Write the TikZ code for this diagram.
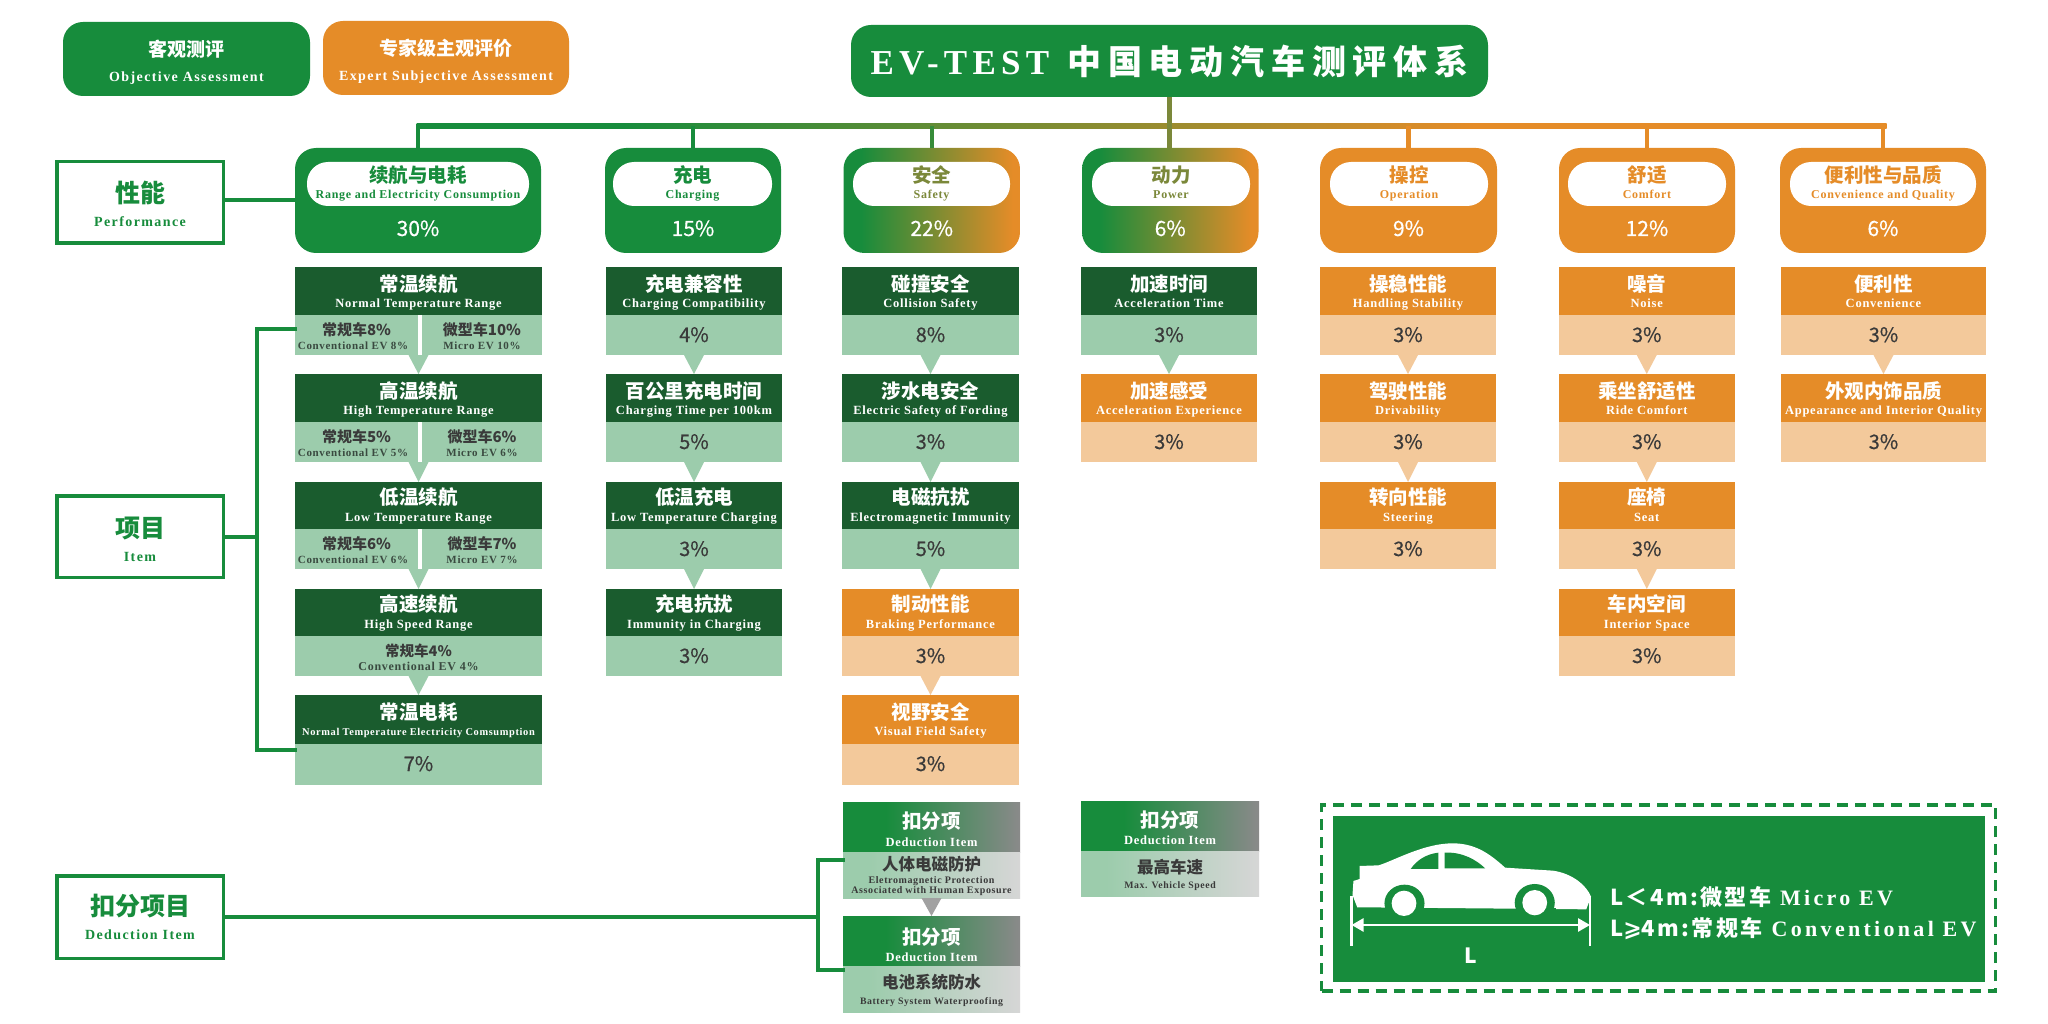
\documentclass[tikz,border=0pt]{standalone}
\usepackage{fontspec}
\usetikzlibrary{arrows.meta}
\newfontfamily\zhf{Noto Sans CJK SC}
\newfontfamily\pcf{Noto Sans CJK SC}[FakeBold=0.5]
\newfontfamily\zhtf{Noto Sans CJK SC}[LetterSpace=20]
\newfontfamily\zhlf{Noto Sans CJK SC}[LetterSpace=11]
\newfontfamily\enf{Liberation Serif}[LetterSpace=6]
\newfontfamily\enmf{Liberation Serif}[LetterSpace=10]
\newfontfamily\entf{Liberation Serif}[LetterSpace=15]
\definecolor{cg}{HTML}{178C3C}
\definecolor{cdg}{HTML}{1A5C2E}
\definecolor{clg}{HTML}{9CCCAC}
\definecolor{co}{HTML}{E58C28}
\definecolor{clo}{HTML}{F3C99B}
\definecolor{cgray}{HTML}{8A8A8A}
\definecolor{clgray}{HTML}{D6D6D6}
\definecolor{colive}{HTML}{7B883A}
\definecolor{ctxt}{HTML}{3A3A3A}
\definecolor{cten}{HTML}{3A4A40}
\pgfdeclarehorizontalshading{gradGO}{100bp}{color(0bp)=(cg); color(30bp)=(cg); color(73bp)=(co); color(100bp)=(co)}
\pgfdeclarehorizontalshading{gradBus}{100bp}{color(0bp)=(cg); color(32bp)=(cg); color(61bp)=(co); color(100bp)=(co)}
\pgfdeclarehorizontalshading{gradDH}{100bp}{color(0bp)=(cg); color(37bp)=(cg); color(75bp)=(cgray); color(100bp)=(cgray)}
\pgfdeclarehorizontalshading{gradDB}{100bp}{color(0bp)=(clg); color(32bp)=(clg); color(75bp)=(clgray); color(100bp)=(clgray)}
\newcommand\ZH[2]{{\zhf\bfseries\fontsize{#1}{#1}\selectfont #2}}
\newcommand\PC[2]{{\pcf\fontsize{#1}{#1}\selectfont #2}}
\newcommand\EN[2]{{\enf\bfseries\fontsize{#1}{#1}\selectfont #2}}
\newcommand\ENM[2]{{\enmf\bfseries\fontsize{#1}{#1}\selectfont #2}}
\newcommand\lineat[2]{\vskip#1pt\hbox to\hsize{\hss\smash{#2}\hss}}
% name x1 y1 x2 y2 style lines
\newcommand\bnode[7]{%
  \pgfmathsetmacro\bw{#4-#2}\pgfmathsetmacro\bh{#5-#3}%
  \node[#6,anchor=north west,inner sep=0pt,outer sep=0pt] (#1) at (#2,#3)
    {\vbox to \bh pt{\hsize=\bw pt\offinterlineskip #7\vss}};}
% name top mid bot g/o zh en pct  (uses \xa \xb)
\newcommand\itm[8]{%
  \pgfmathsetmacro\hb{(#2==482||#2==589)?22.6:24.4}%
  \bnode{#1h}{\xa}{#2}{\xb}{#3}{h#5}{\lineat{\hb}{\ZH{19.5}{#6}}\lineat{16.4}{\EN{12.5}{#7}}}%
  \bnode{#1b}{\xa}{#3}{\xb}{#4}{b#5}{\lineat{27}{\PC{20}{#8}}}}
\newcommand\spl[5]{%
  \draw[white,line width=4pt] ([xshift=1.5pt]#1b.north) -- ([xshift=1.5pt]#1b.south);
  \pgfmathsetmacro\yt{#2}%
  \bnode{#1l}{295}{\yt}{418}{\yt+40}{text=ctxt}{\lineat{20.4}{\ZH{15}{#3}}\lineat{14}{\textcolor{cten}{\EN{11}{#4\kern7pt}}}}%
  \bnode{#1r}{422}{\yt}{542}{\yt+40}{text=ctxt}{\lineat{20.4}{\ZH{15}{#5}}\lineat{14}{\textcolor{cten}{\EN{11}{\spltail}}}}}
\newcommand\tri[3]{\fill[#1] ([xshift=-10pt]#2.south) -- ([xshift=10pt]#2.south) -- (#3.north) -- cycle;}
\newcommand\cat[7]{%
  \bnode{#1}{#2}{148}{#3}{253}{#4,rounded corners=21pt,text=white}{\lineat{88}{\PC{21}{#7}}}}
\newcommand\pill[7]{%
  \bnode{#1}{#2}{162}{#3}{206}{fill=white,rounded corners=21pt,text=#4}{\lineat{20.4}{\ZH{19.5}{#5}}\lineat{16.4}{\EN{12}{#6}}}}
\tikzset{
 hg/.style={fill=cdg,text=white}, bg/.style={fill=clg,text=ctxt},
 ho/.style={fill=co,text=white}, bo/.style={fill=clo,text=ctxt},
 gfill/.style={fill=cg}, ofill/.style={fill=co},
 gofill/.style={shade,shading=gradGO},
 dh/.style={shade,shading=gradDH,text=white},
 db/.style={shade,shading=gradDB,text=ctxt},
 sidebox/.style={draw=cg,line width=3.5pt,fill=white,text=cg},
 conn/.style={line width=4pt,draw=cg},
 drop/.style={line width=4.5pt},
}
\begin{document}
\begin{tikzpicture}[x=1pt,y=-1pt]
\useasboundingbox[fill=white] (0,0) rectangle (2048,1024);
% legend top
\bnode{lgA}{63}{22}{310}{96}{fill=cg,rounded corners=20pt,text=white}{\lineat{34.5}{\ZH{19}{客观测评}}\lineat{25.5}{\ENM{14}{Objective Assessment}}}
\bnode{lgB}{323}{21}{569}{95}{fill=co,rounded corners=20pt,text=white}{\lineat{35}{\ZH{19}{专家级主观评价}}\lineat{25}{\ENM{14}{Expert Subjective Assessment}}}
% title
\bnode{title}{851}{25}{1488}{97}{fill=cg,rounded corners=20pt,text=white}{\lineat{50}{{\entf\bfseries\fontsize{35}{35}\selectfont EV-TEST}\kern18pt{\zhtf\bfseries\fontsize{34}{34}\selectfont 中国电动汽车测评体系}}}
% categories
\cat{c1}{295}{541}{gfill}{}{}{30\%}
\cat{c2}{605}{781}{gfill}{}{}{15\%}
\cat{c3}{843.5}{1020}{gofill}{}{}{22\%}
\cat{c4}{1082}{1258.5}{gofill}{}{}{6\%}
\cat{c5}{1320}{1497}{ofill}{}{}{9\%}
\cat{c6}{1559}{1735}{ofill}{}{}{12\%}
\cat{c7}{1780}{1986}{ofill}{}{}{6\%}
\pill{p1}{307}{529}{cg}{续航与电耗}{Range and Electricity Consumption}{}
\pill{p2}{613}{772}{cg}{充电}{Charging}{}
\pill{p3}{853}{1010}{colive}{安全}{Safety}{}
\pill{p4}{1092}{1250}{colive}{动力}{Power}{}
\pill{p5}{1330}{1488}{co}{操控}{Operation}{}
\pill{p6}{1568}{1726}{co}{舒适}{Comfort}{}
\pill{p7}{1790}{1976}{co}{便利性与品质}{Convenience and Quality}{}
% bus
\node[shade,shading=gradBus,inner sep=0pt,outer sep=0pt,minimum width=1470pt,minimum height=5pt,anchor=west] (bus) at (416.5,126) {};
\draw[drop,draw=colive] (title.south) -- (title.south |- c4.north);
\draw[drop,draw=cg] (c1.north -| p1.north) -- (p1.north |- bus.west);
\draw[drop,draw=cg] (c2.north) -- (c2.north |- bus.west);
\draw[drop,draw=cg!85!co] (c3.north) -- (c3.north |- bus.west);
\draw[drop,draw=co] (c5.north) -- (c5.north |- bus.west);
\draw[drop,draw=co] (c6.north) -- (c6.north |- bus.west);
\draw[drop,draw=co] (c7.north) -- (c7.north |- bus.west);
% column 1
\def\xa{295}\def\xb{542}
\itm{a1}{267}{315}{355}{g}{常温续航}{Normal Temperature Range}{}
\itm{a2}{374}{422}{462}{g}{高温续航}{High Temperature Range}{}
\itm{a3}{482}{529}{569}{g}{低温续航}{Low Temperature Range}{}
\itm{a4}{589}{636}{676}{g}{高速续航}{High Speed Range}{}
\itm{a5}{695}{744}{785}{g}{常温电耗}{\fontsize{10.4}{10.4}\selectfont Normal Temperature Electricity Comsumption}{7\%}
\def\spltail{Micro EV 10\%}\spl{a1}{315}{常规车8\%}{Conventional EV 8\%}{微型车10\%}
\def\spltail{Micro EV 6\%}\spl{a2}{422}{常规车5\%}{Conventional EV 5\%}{微型车6\%}
\def\spltail{Micro EV 7\%}\spl{a3}{529}{常规车6\%}{Conventional EV 6\%}{微型车7\%}
\bnode{a4t}{295}{636}{542}{676}{text=ctxt}{\lineat{20.4}{\ZH{14.5}{常规车4\%}}\lineat{14}{\textcolor{cten}{\EN{12}{Conventional EV 4\%}}}}
\tri{clg}{a1b}{a2h}\tri{clg}{a2b}{a3h}\tri{clg}{a3b}{a4h}\tri{clg}{a4b}{a5h}
% column 2
\def\xa{606}\def\xb{782}
\itm{b1}{267}{315}{355}{g}{充电兼容性}{Charging Compatibility}{4\%}
\itm{b2}{374}{422}{462}{g}{百公里充电时间}{Charging Time per 100km}{5\%}
\itm{b3}{482}{529}{569}{g}{低温充电}{Low Temperature Charging}{3\%}
\itm{b4}{589}{636}{676}{g}{充电抗扰}{Immunity in Charging}{3\%}
\tri{clg}{b1b}{b2h}\tri{clg}{b2b}{b3h}\tri{clg}{b3b}{b4h}
% column 3
\def\xa{842}\def\xb{1019}
\itm{d1}{267}{315}{355}{g}{碰撞安全}{Collision Safety}{8\%}
\itm{d2}{374}{422}{462}{g}{涉水电安全}{Electric Safety of Fording}{3\%}
\itm{d3}{482}{529}{569}{g}{电磁抗扰}{Electromagnetic Immunity}{5\%}
\itm{d4}{589}{636}{676}{o}{制动性能}{Braking Performance}{3\%}
\itm{d5}{695}{744}{785}{o}{视野安全}{Visual Field Safety}{3\%}
\tri{clg}{d1b}{d2h}\tri{clg}{d2b}{d3h}\tri{clg}{d3b}{d4h}\tri{clo}{d4b}{d5h}
% column 4
\def\xa{1081}\def\xb{1257}
\itm{e1}{267}{315}{355}{g}{加速时间}{Acceleration Time}{3\%}
\itm{e2}{374}{422}{462}{o}{加速感受}{Acceleration Experience}{3\%}
\tri{clg}{e1b}{e2h}
% column 5
\def\xa{1320}\def\xb{1496}
\itm{f1}{267}{315}{355}{o}{操稳性能}{Handling Stability}{3\%}
\itm{f2}{374}{422}{462}{o}{驾驶性能}{Drivability}{3\%}
\itm{f3}{482}{529}{569}{o}{转向性能}{Steering}{3\%}
\tri{clo}{f1b}{f2h}\tri{clo}{f2b}{f3h}
% column 6
\def\xa{1558.5}\def\xb{1735}
\itm{g1}{267}{315}{355}{o}{噪音}{Noise}{3\%}
\itm{g2}{374}{422}{462}{o}{乘坐舒适性}{Ride Comfort}{3\%}
\itm{g3}{482}{529}{569}{o}{座椅}{Seat}{3\%}
\itm{g4}{589}{636}{676}{o}{车内空间}{Interior Space}{3\%}
\tri{clo}{g1b}{g2h}\tri{clo}{g2b}{g3h}\tri{clo}{g3b}{g4h}
% column 7
\def\xa{1781}\def\xb{1986}
\itm{k1}{267}{315}{355}{o}{便利性}{Convenience}{3\%}
\itm{k2}{374}{422}{462}{o}{外观内饰品质}{Appearance and Interior Quality}{3\%}
\tri{clo}{k1b}{k2h}
% deductions
\bnode{x1h}{843}{802}{1020}{852}{dh}{\lineat{26.4}{\ZH{19.5}{扣分项}}\lineat{18}{\EN{12.5}{Deduction Item}}}
\bnode{x1b}{843}{852}{1020}{898}{db}{\lineat{18}{\ZH{16.5}{人体电磁防护}}\lineat{13}{\textcolor{ctxt}{\EN{10}{Eletromagnetic Protection}}}\lineat{10.5}{\textcolor{ctxt}{\EN{10}{Associated with Human Exposure}}}}
\bnode{x2h}{843}{916}{1020}{966}{dh}{\lineat{28}{\ZH{19.5}{扣分项}}\lineat{17.5}{\EN{12.5}{Deduction Item}}}
\bnode{x2b}{843}{966}{1020}{1012}{db}{\lineat{22}{\ZH{16.5}{电池系统防水}}\lineat{16}{\textcolor{ctxt}{\EN{9.8}{Battery System Waterproofing}}}}
\bnode{x3h}{1081}{801}{1259}{851}{dh}{\lineat{26.4}{\ZH{19.5}{扣分项}}\lineat{17}{\EN{12.5}{Deduction Item}}}
\bnode{x3b}{1081}{851}{1259}{896}{db}{\lineat{22}{\ZH{16.5}{最高车速}}\lineat{15}{\textcolor{ctxt}{\EN{9.8}{Max. Vehicle Speed}}}}
\fill[cgray!80!white] ([xshift=-10pt]x1b.south) -- ([xshift=10pt]x1b.south) -- (x2h.north) -- cycle;
% side boxes
\bnode{perf}{56.75}{161.75}{223.25}{243.25}{sidebox}{\lineat{40.5}{\ZH{25}{性能}}\lineat{24}{\ENM{14}{Performance}}}
\bnode{item}{56.75}{495.75}{223.25}{577.25}{sidebox}{\lineat{41.5}{\ZH{25}{项目}}\lineat{24}{\ENM{14}{Item}}}
\bnode{ded}{56.75}{875.75}{223.25}{958.25}{sidebox}{\lineat{39.5}{\ZH{25}{扣分项目}}\lineat{24}{\ENM{14}{Deduction Item}}}
% connectors
\coordinate (brA) at (257,329); \coordinate (brB) at (257,750);
\coordinate (brC) at (818,860); \coordinate (brD) at (818,970);
\draw[conn] (perf.east |- c1.west) -- (c1.west);
\draw[conn,line cap=rect] (a1b.west |- brA) -- (brA) -- (brB) -- (a5b.west |- brB);
\draw[conn] (item.east) -- (brA |- item.east);
\draw[conn,line cap=rect] (x1b.west |- brC) -- (brC) -- (brD) -- (x2h.west |- brD);
\draw[conn] (ded.east) -- (brC |- ded.east);
% legend panel
\node[draw=cg,line width=3.5pt,dash pattern=on 11pt off 7pt,fill=white,inner sep=0pt,outer sep=0pt,minimum width=674pt,minimum height=186pt,anchor=north west] (panel) at (1321.5,805) {};
\node[fill=cg,inner sep=0pt,outer sep=0pt,minimum width=652pt,minimum height=166pt,anchor=north west] (panelin) at (1333,816) {};
\begin{scope}[shift={(1300,780)},x=0.4771pt,y=-0.3333pt]
\fill[white] (120,382) -- (110,345) -- (112,303) -- (125,297) -- (125,258) -- (165,256)
  .. controls (200,240) and (260,190) .. (320,190)
  .. controls (370,190) and (400,225) .. (430,263)
  -- (530,272) .. controls (570,280) and (600,315) .. (610,350) -- (600,388) -- (130,382) -- cycle;
\fill[cg] (219,370) ellipse [x radius=42,y radius=56];
\fill[cg] (492,368) ellipse [x radius=42,y radius=56];
\fill[cg] (178,385) rectangle (260,430);
\fill[cg] (452,385) rectangle (536,430);
\fill[white] (218,370) ellipse [x radius=26,y radius=38];
\fill[white] (492,368) ellipse [x radius=26,y radius=38];
\fill[cg] (232,267) .. controls (245,240) and (265,222) .. (290,218) -- (290,267) -- cycle;
\fill[cg] (303,218) .. controls (340,215) and (370,240) .. (388,265) -- (303,265) -- cycle;
\coordinate (dimL) at (108,435); \coordinate (dimR) at (608,435);
\coordinate (tLa) at (108,348); \coordinate (tLb) at (108,498);
\coordinate (tRa) at (608,348); \coordinate (tRb) at (608,498);
\end{scope}
\draw[white,line width=2.5pt] (tLa) -- (tLb);
\draw[white,line width=2.5pt] (tRa) -- (tRb);
\draw[white,line width=2.5pt,{Triangle[width=13pt,length=12pt]}-{Triangle[width=13pt,length=12pt]}] (dimL) -- (dimR);
\node[inner sep=0pt,text=white,font=\zhf\bfseries\fontsize{21}{21}\selectfont] (Lbl) at (1471,956) {L};
\node[inner sep=0pt,anchor=west,text=white] (lA) at (1610,897) {{\zhlf\bfseries\fontsize{22}{22}\selectfont L＜4m:微型车}\kern9pt{\entf\fontsize{22}{22}\selectfont\bfseries Micro EV}};
\node[inner sep=0pt,anchor=west,text=white] (lB) at (1610,929) {{\zhlf\bfseries\fontsize{22}{22}\selectfont L{\fontspec{DejaVu Sans}⩾}4m:常规车}\kern9pt{\entf\fontsize{22}{22}\selectfont\bfseries Conventional EV}};
\end{tikzpicture}
\end{document}
